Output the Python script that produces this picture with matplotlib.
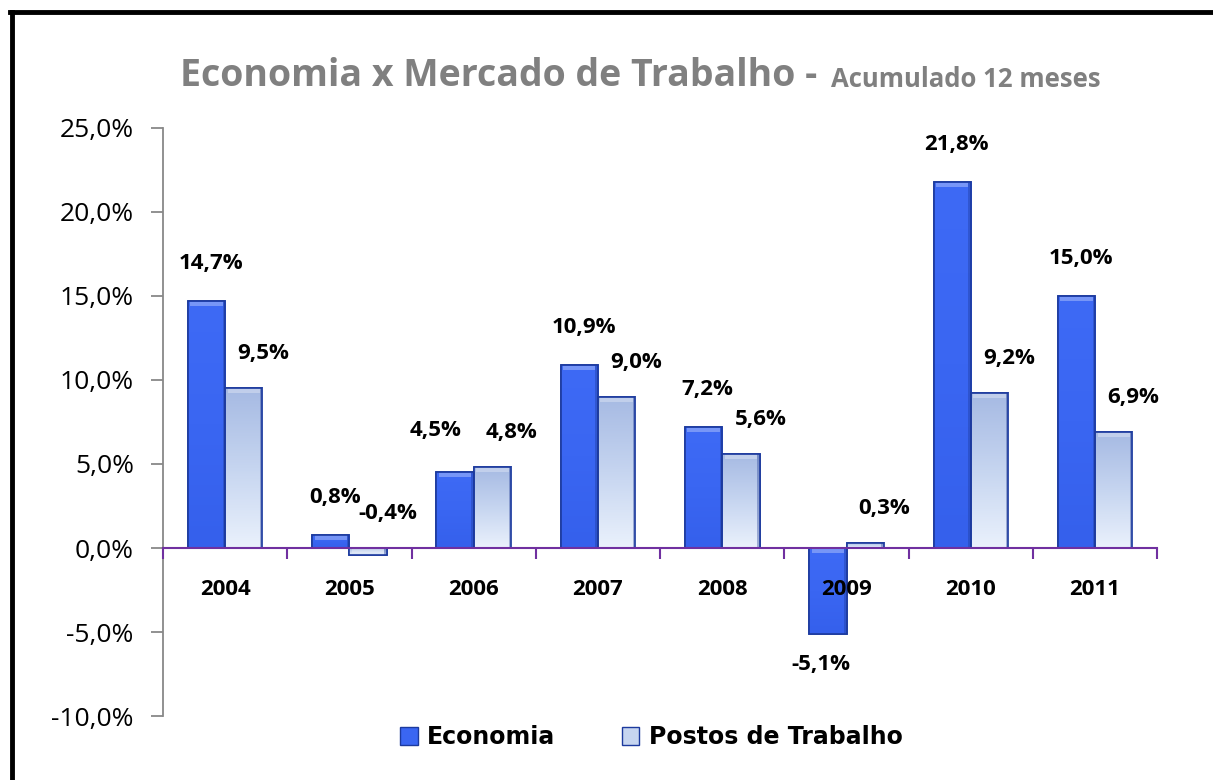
"""
Economia x Mercado de Trabalho - acumulado 12 meses
"""
import numpy as np
import matplotlib
matplotlib.use('Agg')
import matplotlib.pyplot as plt
from matplotlib.lines import Line2D
from matplotlib.patches import Patch
from matplotlib.colors import LinearSegmentedColormap

anos = ['2004', '2005', '2006', '2007', '2008', '2009', '2010', '2011']
economia = [14.7, 0.8, 4.5, 10.9, 7.2, -5.1, 21.8, 15.0]
postos = [9.5, -0.4, 4.8, 9.0, 5.6, 0.3, 9.2, 6.9]
yticks = [-10, -5, 0, 5, 10, 15, 20, 25]

plt.rcParams['font.family'] = ['Open Sans', 'DejaVu Sans']

fig = plt.figure(figsize=(12.13, 7.8), dpi=100)
ax = fig.add_axes([0.1344, 0.082, 0.8196, 0.754])

# a posicao da espinha reseta os ticks, entao vem primeiro
ax.spines['bottom'].set_position(('data', 0))

x = np.arange(len(anos))
w = 0.3
azul = '#3A66F2'
borda = '#1C3A9E'

# degrade: indice 0 = topo da barra
cmap_postos = LinearSegmentedColormap.from_list('postos', ['#A6BAE3', '#C6D5F0', '#EAF1FC'])
cmap_econ = LinearSegmentedColormap.from_list('econ', ['#3E6AF5', '#3A66F2', '#3560EC'])

bars_e = ax.bar(x - w / 2, economia, w, color=azul, edgecolor=borda, linewidth=1.2, zorder=2)
bars_p = ax.bar(x + w / 2, postos, w, color='#D5E0F4', edgecolor=borda, linewidth=1.2, zorder=2)

grad = np.linspace(0, 1, 100).reshape(-1, 1)
for bars, cmap in ((bars_e, cmap_econ), (bars_p, cmap_postos)):
    for b in bars:
        x0, y0 = b.get_x(), b.get_y()
        x1, y1 = x0 + b.get_width(), y0 + b.get_height()
        lo, hi = min(y0, y1), max(y0, y1)
        im = ax.imshow(grad, cmap=cmap, aspect='auto', extent=(x0, x1, lo, hi),
                       origin='upper', zorder=2.1)
        im.set_clip_path(b)
        # realce no topo (efeito bisel)
        if hi - lo > 0.3:
            ax.fill_between([x0 + 0.02, x1 - 0.02], hi - 0.3, hi - 0.05,
                            color='white', alpha=0.3, lw=0, zorder=2.2)
        # lateral direita mais escura
        ax.fill_between([x1 - 0.02, x1], lo, hi, color='#1A3590', alpha=0.35, lw=0, zorder=2.2)
        ax.bar(b.get_x() + b.get_width() / 2, b.get_height(), b.get_width(),
               fill=False, edgecolor=borda, linewidth=1.2, zorder=2.3)


def fmt(v):
    return f'{v:.1f}%'.replace('.', ',')


for xi, v, p in zip(x, economia, postos):
    if v < -1:
        off = (-5, -22)
    elif abs(v - max(p, 0)) < 0.5:
        # rotulos muito proximos: afasta o da economia para a esquerda
        off = (-14, 30)
    else:
        off = (3, 27)
    ax.annotate(fmt(v), (xi - w / 2, max(v, 0) if v > -1 else v), xytext=off,
                textcoords='offset points', ha='center', va='center',
                fontsize=16, fontweight='bold', zorder=4)
for xi, v in zip(x, postos):
    ax.annotate(fmt(v), (xi + w / 2, max(v, 0)), xytext=(14, 25), textcoords='offset points',
                ha='center', va='center', fontsize=16, fontweight='bold', zorder=4)

ax.set_xlim(-0.5, len(anos) - 0.5)
ax.set_ylim(-10, 25)
ax.set_yticks(yticks)
ax.set_yticklabels([fmt(t) for t in yticks], fontsize=19)

ax.set_xticks(x)
ax.set_xticklabels(anos, fontsize=16, fontweight='bold')
ax.set_xticks(np.arange(len(anos) + 1) - 0.5, minor=True)
ax.tick_params(axis='x', which='major', length=0, pad=22)
ax.tick_params(axis='x', which='minor', length=8, width=1.5, color='#7030A0', direction='out')
ax.tick_params(axis='y', length=9, width=1.3, color='#888888', direction='out', pad=12)
ax.xaxis.set_zorder(5)

for s in ('top', 'right'):
    ax.spines[s].set_visible(False)
ax.spines['bottom'].set_color('#7030A0')
ax.spines['bottom'].set_linewidth(1.5)
ax.spines['bottom'].set_zorder(2.5)
ax.spines['left'].set_color('#888888')
ax.spines['left'].set_linewidth(1.3)

# titulo em duas partes, a segunda logo apos a primeira
t1 = fig.text(0.148, 0.902, 'Economia x Mercado de Trabalho - ', fontsize=27, fontweight='bold',
              color='#808080', ha='left', va='center')
fig.canvas.draw()
bb = t1.get_window_extent().transformed(fig.transFigure.inverted())
fig.text(bb.x1 + 0.004, 0.898, 'Acumulado 12 meses', fontsize=18.5, fontweight='bold',
         color='#808080', ha='left', va='center')

handles = [Patch(facecolor=azul, edgecolor=borda),
           Patch(facecolor='#C6D5F0', edgecolor=borda)]
fig.legend(handles, ['Economia', 'Postos de Trabalho'], loc='center', bbox_to_anchor=(0.537, 0.055),
           ncol=2, frameon=False, prop={'family': 'DejaVu Sans', 'weight': 'bold', 'size': 17},
           handlelength=0.75, handleheight=0.75, handletextpad=0.4, columnspacing=2.8)

# moldura preta (so esquerda e topo aparecem)
fig.add_artist(Line2D([12 / 1213, 12 / 1213], [0, 1 - 12 / 780], color='black', lw=3.5,
                      transform=fig.transFigure))
fig.add_artist(Line2D([10 / 1213, 1], [1 - 12 / 780, 1 - 12 / 780], color='black', lw=3.5,
                      transform=fig.transFigure))

plt.savefig('out.png', dpi=100)
